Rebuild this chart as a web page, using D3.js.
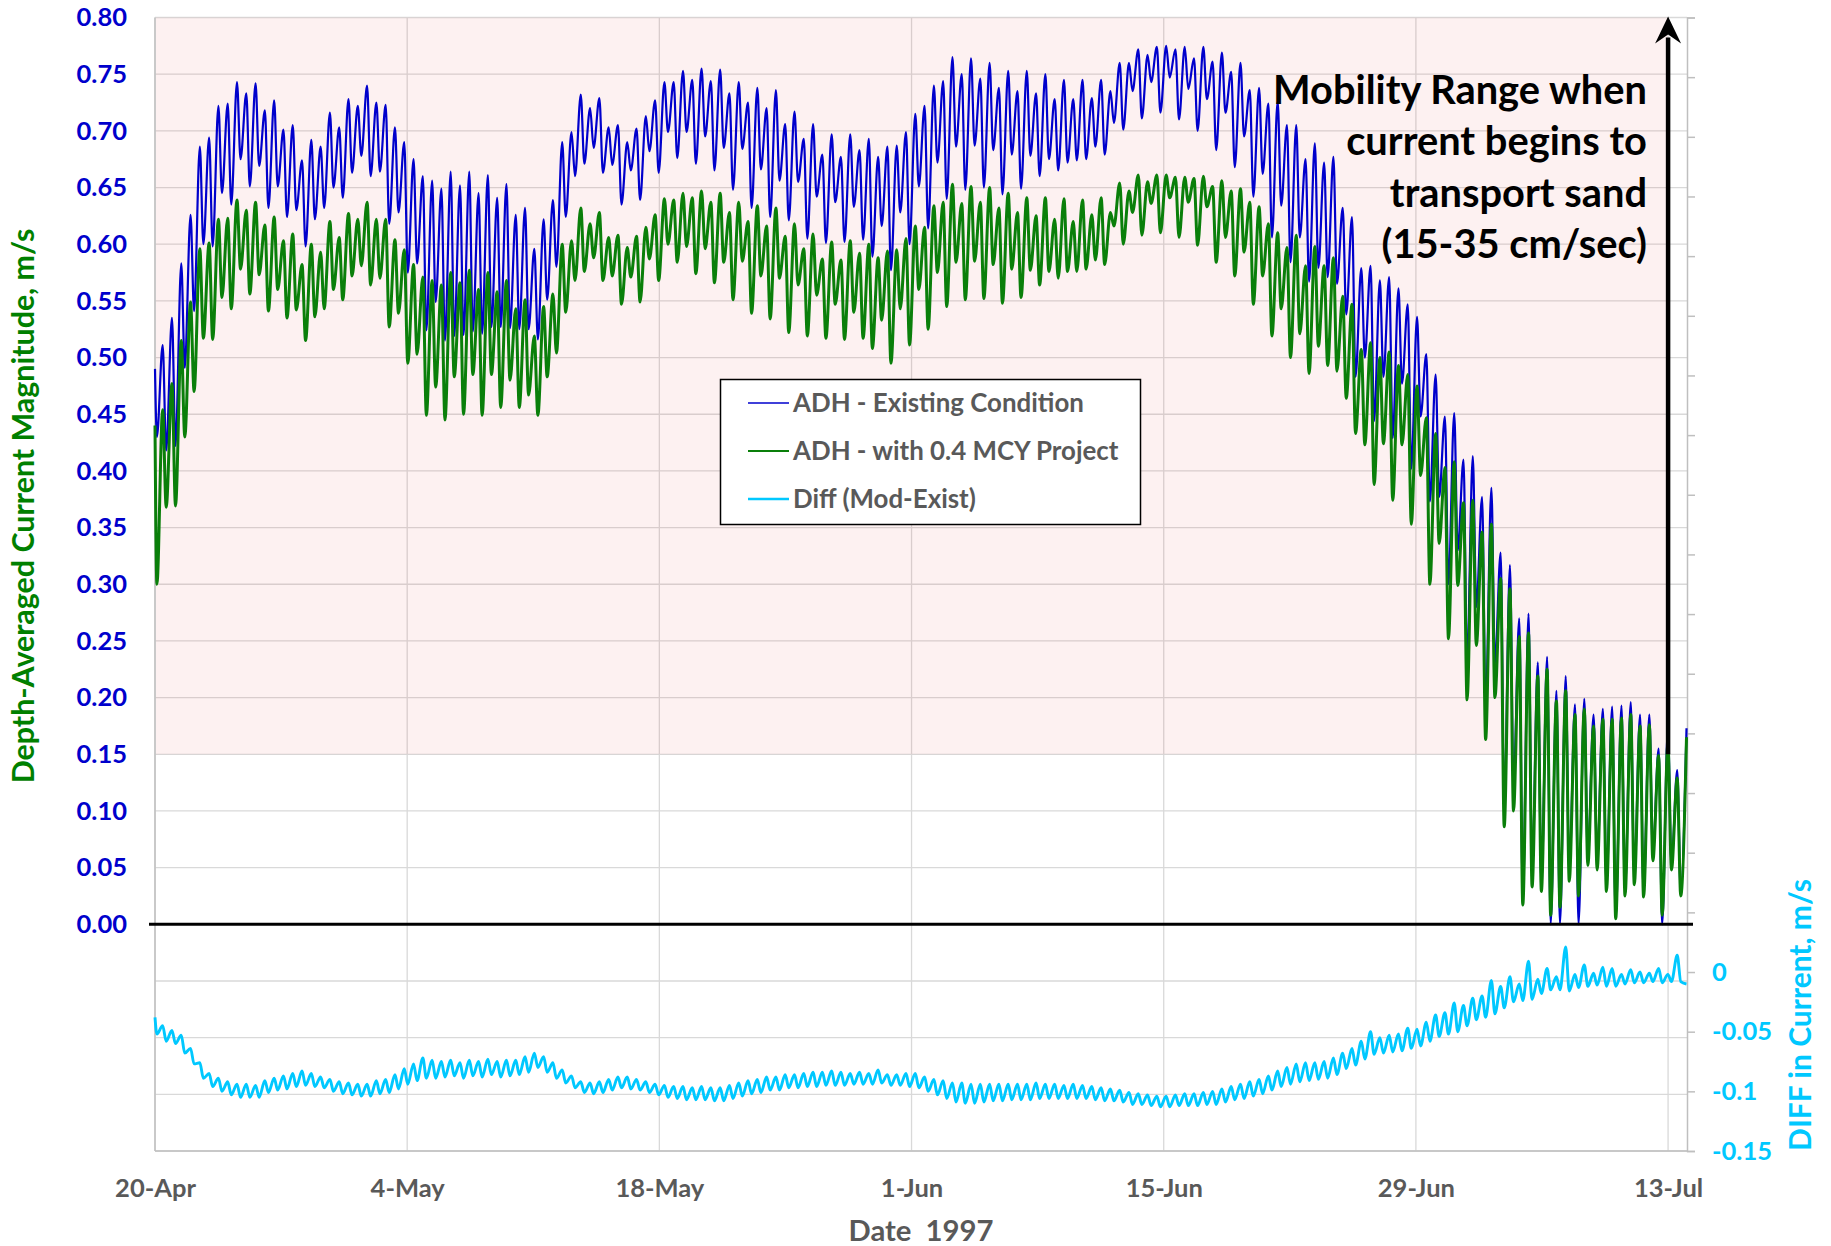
<!DOCTYPE html>
<html><head><meta charset="utf-8">
<script src="https://cdn.jsdelivr.net/npm/d3@7"></script>
<style>
html,body{margin:0;padding:0;background:#fff;}
svg{display:block;}
text{font-family:Lato,'Open Sans',sans-serif;font-weight:700;}
</style></head><body>
<svg id="chart" width="1831" height="1246"></svg>
<script>
// ---------------- DATA ----------------
// Tidal extrema (m/s). Peaks k = 1..165, troughs j = 0..164 (trough j precedes peak j).
const firstPeakHour = 10.22;       // time of the first speed peak after 20-Apr 00:00
const tidalPeriodHours = 12.38;    // spacing of speed peaks
const troughLead = 0.62;           // trough occurs this fraction of a period before its peak

const existingStart = 0.490;
const existingPeaks = [
0.511,0.535,0.583,0.626,0.686,0.694,0.722,0.724,0.743,0.733,
0.742,0.718,0.727,0.701,0.705,0.674,0.692,0.686,0.716,0.703,
0.728,0.722,0.740,0.725,0.723,0.703,0.690,0.675,0.660,0.656,
0.649,0.664,0.652,0.664,0.645,0.661,0.641,0.653,0.626,0.632,
0.596,0.622,0.639,0.690,0.699,0.732,0.720,0.729,0.703,0.705,
0.690,0.702,0.713,0.727,0.743,0.743,0.753,0.745,0.755,0.744,
0.754,0.733,0.743,0.725,0.738,0.720,0.736,0.706,0.717,0.693,
0.706,0.679,0.697,0.677,0.697,0.683,0.693,0.677,0.686,0.687,
0.699,0.715,0.722,0.740,0.744,0.765,0.750,0.764,0.746,0.760,
0.738,0.753,0.735,0.753,0.733,0.750,0.728,0.745,0.728,0.745,
0.729,0.745,0.735,0.760,0.760,0.772,0.767,0.774,0.775,0.772,
0.774,0.764,0.774,0.761,0.769,0.752,0.760,0.736,0.738,0.724,
0.726,0.705,0.705,0.675,0.689,0.672,0.677,0.632,0.624,0.579,
0.581,0.568,0.571,0.561,0.547,0.536,0.503,0.485,0.448,0.451,
0.410,0.413,0.377,0.385,0.328,0.317,0.270,0.274,0.231,0.236,
0.206,0.219,0.194,0.199,0.185,0.190,0.192,0.193,0.196,0.185,
0.185,0.155,0.173,0.136,0.173];
const existingTroughs = [
0.430,0.418,0.422,0.491,0.541,0.600,0.598,0.645,0.635,0.675,
0.651,0.669,0.632,0.651,0.624,0.630,0.598,0.622,0.632,0.650,
0.641,0.663,0.678,0.660,0.664,0.618,0.628,0.575,0.583,0.524,
0.549,0.515,0.519,0.520,0.523,0.521,0.527,0.527,0.526,0.525,
0.525,0.516,0.551,0.580,0.624,0.660,0.671,0.685,0.663,0.670,
0.635,0.665,0.639,0.682,0.663,0.699,0.676,0.699,0.671,0.695,
0.665,0.685,0.648,0.684,0.632,0.666,0.624,0.656,0.621,0.655,
0.605,0.642,0.601,0.637,0.602,0.633,0.604,0.589,0.616,0.577,
0.628,0.600,0.651,0.614,0.672,0.640,0.686,0.648,0.687,0.650,
0.683,0.644,0.679,0.649,0.678,0.660,0.675,0.665,0.672,0.674,
0.675,0.686,0.679,0.707,0.701,0.735,0.711,0.743,0.716,0.747,
0.710,0.737,0.700,0.728,0.683,0.716,0.668,0.695,0.642,0.662,
0.606,0.634,0.584,0.606,0.567,0.579,0.571,0.565,0.538,0.483,
0.500,0.444,0.483,0.429,0.477,0.402,0.448,0.373,0.377,0.300,
0.330,0.230,0.280,0.190,0.230,0.100,0.120,0.025,0.045,0.035,
0.000,0.000,0.045,0.000,0.060,0.055,0.035,0.005,0.030,0.040,
0.028,0.062,0.000,0.052,0.028];

const projectStart = 0.440;
const projectPeaks = [
0.454,0.477,0.515,0.549,0.596,0.601,0.622,0.623,0.639,0.630,
0.637,0.617,0.624,0.603,0.609,0.582,0.600,0.593,0.620,0.606,
0.627,0.622,0.637,0.622,0.622,0.604,0.595,0.582,0.571,0.568,
0.564,0.575,0.566,0.577,0.560,0.575,0.558,0.568,0.543,0.551,
0.519,0.545,0.556,0.600,0.603,0.632,0.618,0.628,0.606,0.608,
0.597,0.607,0.615,0.626,0.640,0.639,0.645,0.641,0.647,0.637,
0.645,0.628,0.637,0.620,0.634,0.616,0.632,0.607,0.618,0.596,
0.609,0.587,0.602,0.586,0.603,0.592,0.600,0.588,0.594,0.595,
0.605,0.616,0.615,0.634,0.637,0.653,0.636,0.651,0.637,0.650,
0.632,0.645,0.628,0.641,0.625,0.641,0.622,0.640,0.620,0.639,
0.626,0.641,0.628,0.654,0.647,0.661,0.655,0.661,0.661,0.659,
0.659,0.658,0.660,0.651,0.656,0.647,0.649,0.637,0.633,0.618,
0.610,0.597,0.608,0.581,0.598,0.581,0.588,0.554,0.547,0.507,
0.513,0.500,0.505,0.493,0.485,0.475,0.447,0.433,0.403,0.408,
0.372,0.374,0.346,0.353,0.305,0.296,0.254,0.257,0.219,0.225,
0.197,0.206,0.185,0.190,0.175,0.181,0.181,0.182,0.185,0.175,
0.176,0.149,0.160,0.129,0.165];
const projectTroughs = [
0.300,0.368,0.369,0.430,0.470,0.517,0.516,0.553,0.543,0.578,
0.556,0.573,0.541,0.560,0.535,0.542,0.515,0.536,0.543,0.560,
0.551,0.572,0.581,0.564,0.570,0.527,0.539,0.495,0.503,0.449,
0.474,0.445,0.483,0.450,0.485,0.449,0.485,0.456,0.480,0.456,
0.467,0.449,0.483,0.504,0.540,0.568,0.576,0.588,0.568,0.572,
0.547,0.571,0.549,0.587,0.568,0.600,0.584,0.598,0.574,0.596,
0.566,0.584,0.551,0.585,0.539,0.572,0.534,0.570,0.522,0.564,
0.519,0.555,0.517,0.547,0.516,0.540,0.517,0.508,0.533,0.495,
0.543,0.511,0.560,0.525,0.575,0.545,0.584,0.551,0.585,0.552,
0.582,0.548,0.578,0.553,0.577,0.564,0.576,0.570,0.576,0.576,
0.578,0.586,0.582,0.616,0.600,0.628,0.608,0.636,0.610,0.641,
0.606,0.637,0.599,0.633,0.584,0.606,0.572,0.593,0.547,0.572,
0.519,0.543,0.500,0.521,0.486,0.510,0.493,0.488,0.464,0.433,
0.423,0.388,0.424,0.374,0.423,0.353,0.396,0.300,0.336,0.252,
0.299,0.198,0.246,0.163,0.200,0.086,0.100,0.017,0.033,0.029,
0.008,0.015,0.038,0.025,0.052,0.048,0.029,0.005,0.025,0.035,
0.024,0.056,0.008,0.048,0.025];

const diffStart = -0.038;
const diffPeaks = [
-0.045,-0.049,-0.053,-0.064,-0.076,-0.085,-0.089,-0.092,-0.094,-0.094,
-0.095,-0.091,-0.089,-0.087,-0.085,-0.083,-0.085,-0.088,-0.090,-0.092,
-0.093,-0.094,-0.094,-0.091,-0.090,-0.086,-0.081,-0.077,-0.072,-0.074,
-0.075,-0.074,-0.076,-0.074,-0.075,-0.073,-0.075,-0.074,-0.074,-0.071,
-0.068,-0.071,-0.076,-0.082,-0.087,-0.092,-0.093,-0.092,-0.090,-0.088,
-0.088,-0.090,-0.092,-0.094,-0.095,-0.096,-0.096,-0.097,-0.096,-0.097,
-0.097,-0.095,-0.093,-0.091,-0.090,-0.088,-0.088,-0.086,-0.086,-0.085,
-0.084,-0.084,-0.083,-0.084,-0.085,-0.084,-0.085,-0.082,-0.086,-0.086,
-0.085,-0.085,-0.088,-0.090,-0.091,-0.093,-0.093,-0.094,-0.094,-0.094,
-0.094,-0.094,-0.094,-0.094,-0.093,-0.094,-0.094,-0.095,-0.094,-0.095,
-0.096,-0.097,-0.098,-0.099,-0.101,-0.102,-0.103,-0.104,-0.104,-0.103,
-0.102,-0.102,-0.101,-0.100,-0.098,-0.096,-0.094,-0.092,-0.090,-0.087,
-0.083,-0.080,-0.077,-0.076,-0.076,-0.075,-0.072,-0.068,-0.064,-0.058,
-0.050,-0.055,-0.053,-0.052,-0.047,-0.048,-0.042,-0.036,-0.034,-0.026,
-0.028,-0.022,-0.020,-0.007,-0.012,-0.004,-0.010,0.009,-0.006,0.003,
-0.004,0.021,-0.002,0.006,-0.001,0.004,0.003,-0.002,0.002,0.000,
-0.001,0.003,-0.002,0.014,-0.010];
const diffTroughs = [
-0.052,
-0.058,-0.060,-0.068,-0.077,-0.089,-0.096,-0.100,-0.103,-0.105,-0.105,
-0.105,-0.101,-0.099,-0.098,-0.096,-0.095,-0.096,-0.097,-0.100,-0.102,
-0.103,-0.104,-0.104,-0.102,-0.101,-0.098,-0.094,-0.091,-0.089,-0.089,
-0.088,-0.087,-0.089,-0.087,-0.088,-0.086,-0.088,-0.087,-0.086,-0.084,
-0.080,-0.084,-0.089,-0.093,-0.097,-0.101,-0.102,-0.101,-0.099,-0.097,
-0.098,-0.099,-0.101,-0.103,-0.105,-0.106,-0.107,-0.107,-0.107,-0.108,
-0.108,-0.106,-0.104,-0.102,-0.101,-0.099,-0.099,-0.097,-0.097,-0.096,
-0.096,-0.095,-0.095,-0.095,-0.094,-0.094,-0.094,-0.093,-0.095,-0.095,
-0.096,-0.097,-0.100,-0.103,-0.106,-0.109,-0.110,-0.110,-0.109,-0.108,
-0.108,-0.107,-0.107,-0.107,-0.106,-0.106,-0.106,-0.106,-0.106,-0.106,
-0.107,-0.108,-0.108,-0.109,-0.111,-0.111,-0.112,-0.113,-0.113,-0.112,
-0.112,-0.112,-0.111,-0.111,-0.109,-0.107,-0.106,-0.104,-0.102,-0.099,
-0.096,-0.094,-0.092,-0.091,-0.090,-0.089,-0.086,-0.081,-0.078,-0.073,
-0.069,-0.068,-0.067,-0.066,-0.064,-0.062,-0.058,-0.054,-0.052,-0.050,
-0.045,-0.040,-0.038,-0.035,-0.030,-0.025,-0.024,-0.023,-0.018,-0.015,
-0.015,-0.016,-0.013,-0.012,-0.011,-0.012,-0.012,-0.010,-0.009,-0.009,
-0.008,-0.009,-0.008,-0.008];

const dateTickDays = [0,14,28,42,56,70,84];
const dateTickLabels = ["20-Apr","4-May","18-May","1-Jun","15-Jun","29-Jun","13-Jul"];
const leftTickValues = [0,0.05,0.10,0.15,0.20,0.25,0.30,0.35,0.40,0.45,0.50,0.55,0.60,0.65,0.70,0.75,0.80];
const leftTickLabels = ["0.00","0.05","0.10","0.15","0.20","0.25","0.30","0.35","0.40","0.45","0.50","0.55","0.60","0.65","0.70","0.75","0.80"];
const gridValues = [-0.20,-0.15,-0.10,-0.05,0,0.05,0.10,0.15,0.20,0.25,0.30,0.35,0.40,0.45,0.50,0.55,0.60,0.65,0.70,0.75,0.80];
const rightTickValues = [-0.15,-0.10,-0.05,0,0.05,0.10,0.15,0.20,0.25,0.30,0.35,0.40,0.45,0.50,0.55,0.60,0.65,0.70,0.75,0.80];
const rightTickLabels = ["-0.15","-0.1","-0.05","0","","","","","","","","","","","","","","","",""];
const seriesNames = ["ADH - Existing Condition","ADH - with 0.4 MCY Project","Diff (Mod-Exist)"];
const annotationLines = ["Mobility Range when","current begins to","transport sand","(15-35 cm/sec)"];
const mobilityRange = [0.15, 0.80];

// ---------------- CHART ----------------
const svg = d3.select("#chart");
const base = new Date(1997, 3, 20).getTime();
const H = 3600000;
const timeAt = h => new Date(base + h * H);
const endDays = 85.05;

const L = 155, R = 1687, T = 17.5, B = 1151;
const x = d3.scaleTime().domain([timeAt(0), timeAt(endDays * 24)]).range([L, R]);
const yL = d3.scaleLinear().domain([-0.2, 0.8]).range([B, T]);
const yR = d3.scaleLinear().domain([-0.15, 0.8]).range([B, T]);

const GRAY = "#595959", BLUE = "#0000CC", GREEN = "#0A7F0A", CYAN = "#00C8FF";
const FONT = "Lato, 'Open Sans', sans-serif";

function fitSize(str, target) {
  const t = svg.append("text").attr("font-size", 100).style("font-family", FONT)
    .style("font-weight", 700).style("white-space", "pre").text(str);
  const w = t.node().getComputedTextLength();
  t.remove();
  return 100 * target / w;
}
const tickSize = (fitSize("0.80", 51) + fitSize("20-Apr", 80)) / 2;
const legendSize = fitSize("ADH - Existing Condition", 291);
const leftTitleSize = fitSize("Depth-Averaged Current Magnitude, m/s", 555);
const rightTitleSize = fitSize("DIFF in Current, m/s", 272);
const xTitleSize = fitSize("Date  1997", 145);
const annSize = fitSize("Mobility Range when", 374);

// gridlines
svg.append("g").selectAll("line").data(gridValues).join("line")
  .attr("x1", L).attr("x2", R).attr("y1", d => yL(d)).attr("y2", d => yL(d))
  .attr("stroke", "#D9D9D9").attr("stroke-width", 1.3);
svg.append("g").selectAll("line").data(dateTickDays).join("line")
  .attr("x1", d => x(timeAt(d * 24))).attr("x2", d => x(timeAt(d * 24)))
  .attr("y1", T).attr("y2", B).attr("stroke", "#D9D9D9").attr("stroke-width", 1.3);

// axes frame
const axisColor = "#BFBFBF";
svg.append("line").attr("x1", L).attr("x2", L).attr("y1", T).attr("y2", B).attr("stroke", axisColor).attr("stroke-width", 1.5);
svg.append("line").attr("x1", L).attr("x2", R).attr("y1", B).attr("y2", B).attr("stroke", axisColor).attr("stroke-width", 1.5);

// mobility range shading
const arrowX = x(timeAt(84 * 24));
svg.append("rect").attr("x", L + 1).attr("y", yL(mobilityRange[1]))
  .attr("width", arrowX - L - 1).attr("height", yL(mobilityRange[0]) - yL(mobilityRange[1]))
  .attr("fill", "#E01414").attr("fill-opacity", 0.058);

// left axis
const gL = svg.append("g").attr("transform", `translate(${L},0)`)
  .call(d3.axisLeft(yL).tickValues(leftTickValues).tickFormat((d, i) => leftTickLabels[i]).tickSize(0).tickPadding(28));
gL.select(".domain").remove();
gL.selectAll("text").attr("fill", BLUE).style("font-family", FONT).style("font-weight", 700).attr("font-size", tickSize);

// right axis
const gR = svg.append("g").attr("transform", `translate(${R},0)`)
  .call(d3.axisRight(yR).tickValues(rightTickValues).tickFormat((d, i) => rightTickLabels[i]).tickSize(8).tickPadding(17));
gR.select(".domain").attr("stroke", axisColor).attr("stroke-width", 1.5);
gR.selectAll(".tick line").attr("stroke", axisColor).attr("stroke-width", 1.5);
gR.selectAll("text").attr("fill", CYAN).style("font-family", FONT).style("font-weight", 700).attr("font-size", tickSize);

// bottom axis
const gB = svg.append("g").attr("transform", `translate(0,${B})`)
  .call(d3.axisBottom(x).tickValues(dateTickDays.map(d => timeAt(d * 24))).tickFormat((d, i) => dateTickLabels[i]).tickSize(0));
gB.select(".domain").remove();
gB.selectAll("text").attr("y", 46).attr("dy", 0).attr("fill", GRAY)
  .style("font-family", FONT).style("font-weight", 700).attr("font-size", tickSize);

// titles
svg.append("text").attr("transform", "translate(34,506) rotate(-90)").attr("text-anchor", "middle")
  .attr("fill", "#008000").attr("font-size", leftTitleSize).text("Depth-Averaged Current Magnitude, m/s");
svg.append("text").attr("transform", "translate(1811,1015) rotate(-90)").attr("text-anchor", "middle")
  .attr("fill", CYAN).attr("font-size", rightTitleSize).text("DIFF in Current, m/s");
svg.append("text").attr("x", (L + R) / 2).attr("y", 1241).attr("text-anchor", "middle")
  .attr("fill", GRAY).attr("font-size", xTitleSize).style("white-space", "pre").text("Date  1997");

// series
function buildSeries(startValue, troughs, peaks) {
  const pts = [{t: timeAt(0), v: startValue}];
  peaks.forEach((p, i) => {
    pts.push({t: timeAt(firstPeakHour + (i - troughLead) * tidalPeriodHours), v: troughs[i]});
    pts.push({t: timeAt(firstPeakHour + i * tidalPeriodHours), v: p});
  });
  return pts;
}
const existing = buildSeries(existingStart, existingTroughs, existingPeaks);
const project = buildSeries(projectStart, projectTroughs, projectPeaks);
const diff = buildSeries(diffStart, diffTroughs, diffPeaks);

const lineL = d3.line().x(d => x(d.t)).y(d => yL(d.v)).curve(d3.curveMonotoneX);
const lineR = d3.line().x(d => x(d.t)).y(d => yR(d.v)).curve(d3.curveMonotoneX);

svg.append("path").datum(diff).attr("d", lineR).attr("fill", "none").attr("stroke", CYAN).attr("stroke-width", 2.9).attr("stroke-linejoin", "round");
svg.append("path").datum(existing).attr("d", lineL).attr("fill", "none").attr("stroke", BLUE).attr("stroke-width", 2.2).attr("stroke-linejoin", "round");
svg.append("path").datum(project).attr("d", lineL).attr("fill", "none").attr("stroke", GREEN).attr("stroke-width", 3.0).attr("stroke-linejoin", "round");

// zero line
svg.append("line").attr("x1", L - 6).attr("x2", R + 6).attr("y1", yL(0)).attr("y2", yL(0))
  .attr("stroke", "#000").attr("stroke-width", 3);

// arrow
const aTop = yL(mobilityRange[1]);
svg.append("line").attr("x1", arrowX).attr("x2", arrowX).attr("y1", yL(mobilityRange[0])).attr("y2", aTop + 20)
  .attr("stroke", "#000").attr("stroke-width", 4.5);
svg.append("path").attr("d", `M${arrowX},${aTop - 1} L${arrowX - 13},${aTop + 26} L${arrowX},${aTop + 17} L${arrowX + 13},${aTop + 26} Z`)
  .attr("fill", "#000");

// annotation
svg.append("g").selectAll("text").data(annotationLines).join("text")
  .attr("x", 1647).attr("y", (d, i) => 104 + i * 51.3).attr("text-anchor", "end")
  .attr("fill", "#000").attr("font-size", annSize).text(d => d);

// legend
const lg = svg.append("g");
lg.append("rect").attr("x", 720.5).attr("y", 379.5).attr("width", 420).attr("height", 145)
  .attr("fill", "#fff").attr("stroke", "#000").attr("stroke-width", 1.5);
const legendColors = [BLUE, GREEN, CYAN], legendWidths = [1.6, 2.2, 2.6];
seriesNames.forEach((name, i) => {
  const yy = 403 + i * 48;
  lg.append("line").attr("x1", 748).attr("x2", 789).attr("y1", yy).attr("y2", yy)
    .attr("stroke", legendColors[i]).attr("stroke-width", legendWidths[i]);
  lg.append("text").attr("x", 793).attr("y", yy).attr("dy", "0.35em").attr("fill", GRAY)
    .attr("font-size", legendSize).text(name);
});
</script>
</body></html>
